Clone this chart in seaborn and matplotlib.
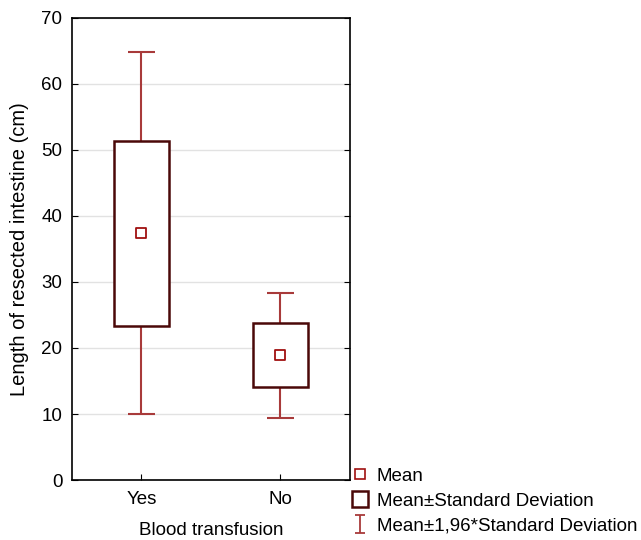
import numpy as np
import pandas as pd
import seaborn as sns
import matplotlib.pyplot as plt
from matplotlib.lines import Line2D
from matplotlib.path import Path

# valores
grupos = ['Yes', 'No']
media = [37.4, 18.9]
desvio = [14.0, 4.85]
fator = 1.96

df = pd.DataFrame({'grupo': grupos, 'media': media, 'dp': desvio})
df['sd_lo'] = df['media'] - df['dp']
df['sd_hi'] = df['media'] + df['dp']
df['ci_lo'] = df['media'] - fator * df['dp']
df['ci_hi'] = df['media'] + fator * df['dp']

sns.set_style('ticks')
plt.rcParams['font.family'] = ['Liberation Sans', 'DejaVu Sans']
plt.rcParams['text.color'] = 'black'
plt.rcParams['axes.labelcolor'] = 'black'
plt.rcParams['xtick.color'] = 'black'
plt.rcParams['ytick.color'] = 'black'

cor_whisker = '#a83a3a'
cor_caixa = '#4a0808'
cor_media = '#a01010'
fs = 13.5

fig = plt.figure(figsize=(6.41, 5.40), dpi=100)
ax = fig.add_axes([0.1123, 0.1111, 0.4337, 0.8556])

x = np.arange(len(df))

# whiskers (media +- 1,96*dp)
ax.vlines(x, df['ci_lo'], df['ci_hi'], color=cor_whisker, lw=1.5, zorder=2)
ax.hlines(df['ci_lo'], x - 0.1, x + 0.1, color=cor_whisker, lw=1.5, zorder=2)
ax.hlines(df['ci_hi'], x - 0.1, x + 0.1, color=cor_whisker, lw=1.5, zorder=2)

# caixa (media +- dp)
ax.bar(x, df['sd_hi'] - df['sd_lo'], bottom=df['sd_lo'], width=0.4,
       facecolor='white', edgecolor=cor_caixa, linewidth=1.8, zorder=3)

# media
sns.scatterplot(x=x, y=df['media'], marker='s', s=50, facecolor='white',
                edgecolor=cor_media, linewidth=1.3, zorder=4, ax=ax, legend=False)

ax.set_xlim(-0.5, 1.5)
ax.set_ylim(0, 70)
ax.set_xticks(x)
ax.set_xticklabels(grupos)
ax.set_yticks(range(0, 71, 10))
ax.yaxis.grid(True, color='#e2e2e2', lw=1)
ax.set_axisbelow(True)
ax.tick_params(direction='in', length=4, labelsize=fs, right=True)
ax.tick_params(axis='y', pad=7)
ax.tick_params(axis='x', pad=8)
for s in ax.spines.values():
    s.set_linewidth(1.2)
    s.set_color('black')
ax.set_xlabel('Blood transfusion', fontsize=fs, labelpad=10)
ax.set_ylabel('Length of resected intestine (cm)', fontsize=14.5, labelpad=9)

# legenda
ibeam = Path([(-0.6, -1), (0.6, -1), (0, -1), (0, 1), (-0.6, 1), (0.6, 1)],
             [Path.MOVETO, Path.LINETO, Path.MOVETO, Path.LINETO, Path.MOVETO, Path.LINETO])
handles = [
    Line2D([], [], ls='none', marker='s', ms=7, mfc='white', mec=cor_media, mew=1.2),
    Line2D([], [], ls='none', marker='s', ms=12, mfc='white', mec=cor_caixa, mew=1.8),
    Line2D([], [], ls='none', marker=ibeam, ms=13, mec=cor_whisker, mew=1.3),
]
labels = ['Mean', 'Mean\u00b1Standard Deviation', 'Mean\u00b11,96*Standard Deviation']
fig.legend(handles, labels, loc='lower left', bbox_to_anchor=(0.548, 0.01),
           frameon=False, fontsize=fs, handlelength=0.9, handletextpad=0.45,
           labelspacing=0.42, borderaxespad=0, borderpad=0)

fig.savefig('out.png', dpi=100)
